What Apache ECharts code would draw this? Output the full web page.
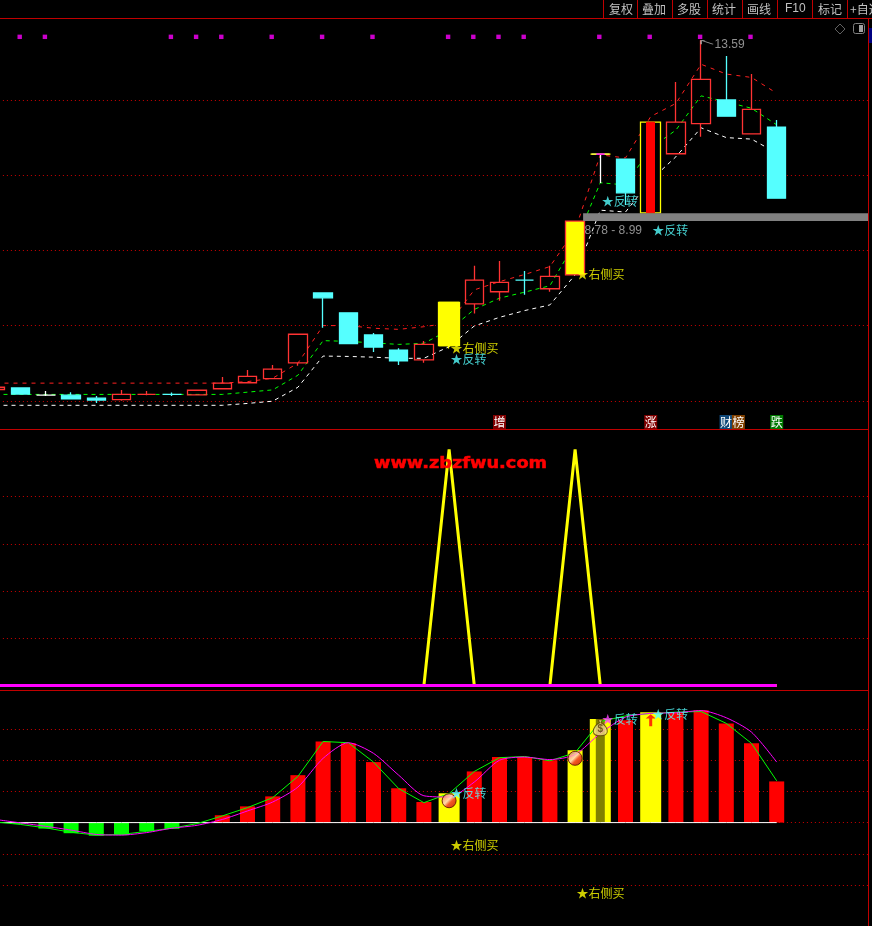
<!DOCTYPE html>
<html><head><meta charset="utf-8">
<style>html,body{margin:0;padding:0;background:#000}#c{width:872px;height:926px}</style>
<script src="https://cdn.jsdelivr.net/npm/echarts@6/dist/echarts.min.js"></script>
</head><body><div id="c"></div>
<script>
// ---------- data ----------
const categories = ['0','1','2','3','4','5','6','7','8','9','10','11','12','13','14','15','16','17','18','19','20','21','22','23','24','25','26','27','28','29','30','31','32','33','34','35'];
// [open, close, low, high]
const candles = [
 [4.30,4.36,4.30,4.36],[4.34,4.18,4.18,4.34],[4.15,4.15,4.13,4.26],[4.15,4.05,4.05,4.23],
 [4.07,4.02,3.94,4.13],[4.03,4.17,4.00,4.29],[4.17,4.17,4.15,4.26],[4.17,4.17,4.13,4.22],
 [4.16,4.28,4.14,4.28],[4.32,4.47,4.30,4.63],[4.48,4.65,4.48,4.82],[4.59,4.84,4.59,4.95],
 [5.01,5.77,4.93,5.77],[6.87,6.74,5.94,6.87],[6.34,5.52,5.52,6.34],[5.75,5.43,5.30,5.80],
 [5.35,5.06,4.95,5.40],[5.09,5.50,5.01,5.59],[5.47,6.62,5.39,6.62],[6.58,7.21,6.32,7.59],
 [6.90,7.15,6.66,7.72],[7.21,7.21,6.82,7.45],[6.98,7.31,6.90,7.59],[7.35,8.78,7.35,8.78],
 [10.56,10.56,9.79,10.56],[10.43,9.53,9.21,10.43],[9.00,11.41,9.00,11.41],[10.57,11.41,10.57,12.48],
 [11.37,12.55,11.02,13.59],[12.00,11.57,11.57,13.17],[11.10,11.75,11.10,12.69],[11.28,9.39,9.39,11.47]
];
const candleKinds = ['r','c','w','c','c','r','r','c','r','r','r','r','r','c','c','c','c','r','y','r','r','c','r','yr','w','c','k','r','r','c','r','c'];
const boxOutline = [[18,5.47,6.62],[24,10.56,10.56],[26,9.00,11.41]];
const innerBar = [[24,10.56,10.56,'#ff00ff'],[26,9.00,11.41,'#ff0000']];
const upperBand = [4.47,4.47,4.47,4.47,4.47,4.47,4.47,4.47,4.47,4.47,4.51,4.60,5.00,6.00,6.00,5.93,5.90,5.97,6.07,6.95,7.17,7.36,7.57,8.54,10.54,10.46,11.56,11.91,12.95,12.69,12.60,12.18];
const midBand = [4.17,4.17,4.17,4.17,4.17,4.17,4.17,4.17,4.17,4.17,4.23,4.29,4.68,5.60,5.58,5.54,5.50,5.53,5.88,6.43,6.73,6.89,7.06,8.20,9.80,9.74,10.72,11.20,12.11,11.95,11.78,11.34];
const lowerBand = [3.88,3.88,3.88,3.88,3.88,3.88,3.88,3.88,3.88,3.88,3.93,3.99,4.36,5.19,5.18,5.16,5.13,5.13,5.44,5.99,6.22,6.40,6.55,7.35,9.07,9.02,9.87,10.49,11.26,11.00,10.96,10.59];
const topMarks = [1,2,7,8,9,11,13,15,18,19,20,21,24,26,28,30];
const topMarkLevel = 13.68;
const chipRange = [23,8.78,8.99];
const priceLabels = [[23,8.53,'8.78 - 8.99'],[28,13.47,'13.59']];
const highPoint = [[28,13.59]];
const priceSignals = [[18,5.38,'买'],[18,5.09,'反'],[23,7.35,'买'],[24,9.29,'反'],[26,8.54,'反']];
const peakValues = [0,0,0,0,0,0,0,0,0,0,0,0,0,0,0,0,0,0,100,0,0,0,0,100,0,0,0,0,0,0,0,0];
const baseValues = [0,0,0,0,0,0,0,0,0,0,0,0,0,0,0,0,0,0,0,0,0,0,0,0,0,0,0,0,0,0,0,0];
const macdBars = [0,-0.02,-0.096,-0.17,-0.21,-0.20,-0.14,-0.10,-0.01,0.118,0.26,0.42,0.76,1.30,1.27,0.97,0.55,0.33,null,0.82,1.05,1.05,1.00,1.16,null,1.64,null,1.77,1.80,1.59,1.27,0.66];
const macdBarColors = {23:'#ffff00'};
const wideBars = [[18,0.47],[24,1.66],[26,1.77]];
const oliveBar = [[24,1.66]];
const difLine = [0.01,-0.03,-0.085,-0.155,-0.20,-0.19,-0.14,-0.09,-0.016,0.107,0.24,0.40,0.74,1.30,1.28,0.97,0.545,0.32,0.465,0.82,1.04,1.06,0.99,1.12,1.62,1.71,1.75,1.77,1.78,1.59,1.27,0.67];
const deaLine = [0.05,-0.005,-0.06,-0.12,-0.19,-0.20,-0.16,-0.09,-0.043,0.05,0.187,0.33,0.57,1.03,1.28,1.11,0.76,0.43,0.41,0.65,1.00,1.05,1.01,1.09,1.43,1.69,1.75,1.76,1.795,1.68,1.45,0.97];
const macdSignals = [[18,0.47,'反','#55ffff'],[24,1.66,'反','#ff44ff'],[26,1.74,'反','#55ffff'],[18,-0.366,'买','#ffff00'],[23,-1.13,'买','#ffff00']];
const balls = [[18,0.35],[23,1.03]];
const bag = [[24,1.52]];
const arrow = [[26,1.64]];
const toolbarLabels = ['复权','叠加','多股','统计','画线','F10','标记','+自选'];
const badges = [['增',20,'#800000'],['涨',26,'#800000'],['财',28.99,'#104878'],['榜',29.48,'#804000'],['跌',31,'#007a00']];

// ---------- helpers ----------
const cjk = '"Noto Sans CJK SC"';
const RED='#ff3333', CYAN='#55ffff', DOT='#cc0000', FRAME='#c00000';
const kindStyle = {
  r:{color:'rgba(0,0,0,0)',b:RED}, c:{color:CYAN,b:CYAN}, w:{color:'#fff',b:'#fff'},
  y:{color:'#ffff00',b:'#ffff00'}, yr:{color:'#ffff00',b:RED}, k:{color:'#000',b:'#000'}
};
const candleData = candles.map((v,i)=>{
  let s=kindStyle[candleKinds[i]]; if(candleKinds[i]==='r'&&v[0]===v[1]) s={color:RED,b:RED};
  return {value:v,itemStyle:{color:s.color,color0:s.color,borderColor:s.b,borderColor0:s.b,borderColorDoji:s.b,borderWidth:1.3}};
});
function sparse(rows,make){const a=categories.map(()=>({value:['-','-','-','-']}));rows.forEach(r=>a[r[0]]=make(r));return a;}
const outlineData = sparse(boxOutline,r=>({value:[r[1],r[2],r[1],r[2]],itemStyle:{color:'rgba(0,0,0,0)',color0:'rgba(0,0,0,0)',borderColor:'#ffff00',borderColor0:'#ffff00',borderColorDoji:'#ffff00',borderWidth:1.3}}));
const innerData = sparse(innerBar,r=>({value:[r[1],r[2],r[1],r[2]],itemStyle:{color:r[3],color0:r[3],borderColor:r[3],borderColor0:r[3],borderColorDoji:r[3],borderWidth:1}}));
const xAx=(g,extra)=>Object.assign({type:'category',data:categories,gridIndex:g,boundaryGap:true,axisLine:{show:false},axisTick:{show:false},axisLabel:{show:false},splitLine:{show:false}},extra||{});
const dotted={show:true,showMinLine:true,showMaxLine:false,lineStyle:{color:DOT,width:1,type:[1,3]}};
const yAx=(g,min,max,interval,extra)=>Object.assign({type:'value',gridIndex:g,min,max,interval,axisLine:{show:false},axisTick:{show:false},axisLabel:{show:false},splitLine:dotted},extra||{});
const line=(name,data,x,y,color,width,type,z,extra)=>Object.assign({name,type:'line',data,xAxisIndex:x,yAxisIndex:y,symbol:'none',clip:false,z,lineStyle:{color,width,type},silent:true},extra||{});
const sigRich={st:{fontFamily:cjk,fontSize:12,color:'#ffff00'},tb:{fontFamily:cjk,fontSize:12,color:'#ffff00'},tr:{fontFamily:cjk,fontSize:12,color:CYAN},sc:{fontFamily:cjk,fontSize:12,color:CYAN},sm:{fontFamily:cjk,fontSize:12,color:'#ff44ff'}};
const sigText=(k,star)=> k==='买' ? '{st|★}{tb|右侧买}' : (star==='#ff44ff'?'{sm|★}{tr|反转}':'{sc|★}{tr|反转}');
const sigSeries=(rows,x,y)=>({type:'scatter',xAxisIndex:x,yAxisIndex:y,clip:false,symbolSize:1,itemStyle:{color:'rgba(0,0,0,0)'},z:9,silent:true,
  data:rows.map(r=>({value:[r[0],r[1]],label:{show:true,position:'right',distance:0,offset:[1,0],formatter:sigText(r[2],r[3]),rich:sigRich}}))});
const gridBase={left:-17.1,width:907.2,outerBoundsMode:'none',containLabel:false};
const opt={
 backgroundColor:'#000',animation:false,
 grid:[
  Object.assign({top:24.8,height:451.2},gridBase),
  Object.assign({top:449.5,height:236},gridBase),
  Object.assign({top:697.8,height:187.2},gridBase)
 ],
 xAxis:[xAx(0),xAx(1),xAx(2),xAx(2,{show:false}),xAx(2,{show:false})],
 yAxis:[yAx(0,2,14,2,{splitLine:Object.assign({},dotted,{showMinLine:false})}),yAx(1,0,100,20,{splitLine:Object.assign({},dotted,{showMinLine:false})}),yAx(2,-1,2,0.5)],
 series:[
  line('upper',upperBand,0,0,'#ff2020',1,[4,5],1),
  line('mid',midBand,0,0,'#00ff00',1,[4,4],1),
  line('lower',lowerBand,0,0,'#ffffff',1,[4,4],1),
  {name:'kline',type:'candlestick',data:candleData,xAxisIndex:0,yAxisIndex:0,barWidth:19,z:2,clip:false,silent:true},
  {name:'box',type:'candlestick',data:outlineData,xAxisIndex:0,yAxisIndex:0,barWidth:21,z:3,clip:false,silent:true},
  {name:'inner',type:'candlestick',data:innerData,xAxisIndex:0,yAxisIndex:0,barWidth:9,z:4,clip:false,silent:true},
  {name:'chip',type:'custom',xAxisIndex:0,yAxisIndex:0,z:5,silent:true,clip:false,data:[chipRange],
   encode:{x:0,y:[1,2]},
   renderItem:(p,api)=>{const a=api.coord([api.value(0),api.value(2)]),b=api.coord([api.value(0),api.value(1)]);
     return {type:'rect',shape:{x:a[0]+8,y:a[1],width:300,height:b[1]-a[1]},style:{fill:'#808080'}};}},
  {name:'topMarks',type:'scatter',xAxisIndex:0,yAxisIndex:0,symbol:'rect',symbolSize:4.4,symbolOffset:[-1,0],z:6,silent:true,itemStyle:{color:'#ff00ff'},
   data:topMarks.map(i=>[i,topMarkLevel])},
  {name:'highLeader',type:'scatter',xAxisIndex:0,yAxisIndex:0,z:7,silent:true,clip:false,data:highPoint,
   symbol:'path://M0 0 L4 0 M0 0 L0 4 M0 0 L12 4',symbolSize:[12,4],symbolOffset:[6,2],symbolKeepAspect:false,
   itemStyle:{color:'rgba(0,0,0,0)',borderColor:'#b4b4b4',borderWidth:1}},
  sigSeries(priceSignals,0,0),
  {type:'scatter',xAxisIndex:0,yAxisIndex:0,symbolSize:1,z:9,clip:false,silent:true,itemStyle:{color:'rgba(0,0,0,0)'},
   data:priceLabels.map(r=>({value:[r[0],r[1]],label:{show:true,position:'right',distance:0,offset:[r[2]==='13.59'?13:9,0],formatter:r[2],color:'#b4b4b4',fontFamily:'"Liberation Sans"',fontSize:12}}))},
  line('peak',peakValues,1,1,'#ffff00',3,'solid',2,{}),
  line('base',baseValues,1,1,'#ff00ff',3,'solid',3,{}),
  {name:'macd',type:'bar',data:macdBars.map((v,i)=>v==null?null:{value:v,itemStyle:{color:macdBarColors[i]||(v<0?'#00ff00':'#ff0000')}}),xAxisIndex:2,yAxisIndex:2,barWidth:15,z:2,silent:true,clip:false},
  {name:'wide',type:'bar',data:categories.map((c,i)=>{const r=wideBars.find(w=>w[0]===i);return r?r[1]:null;}),xAxisIndex:3,yAxisIndex:2,barWidth:21,z:2,silent:true,clip:false,itemStyle:{color:'#ffff00'}},
  {name:'olive',type:'bar',data:categories.map((c,i)=>{const r=oliveBar.find(w=>w[0]===i);return r?r[1]:null;}),xAxisIndex:4,yAxisIndex:2,barWidth:9,z:3,silent:true,clip:false,itemStyle:{color:'#808000'}},
  line('zero',baseValues,2,2,'#ffffff',1,'solid',4),
  line('dif',difLine,2,2,'#00ff00',1,'solid',5),
  line('dea',deaLine,2,2,'#ff00ff',1,'solid',6,{smooth:0.25}),
  {type:'scatter',xAxisIndex:2,yAxisIndex:2,symbol:'circle',symbolSize:14,z:8,silent:true,data:balls,
   itemStyle:{borderColor:'#500000',borderWidth:1,color:{type:'linear',x:0,y:0,x2:1,y2:1,colorStops:[{offset:0,color:'#f05050'},{offset:.45,color:'#ffd0d0'},{offset:.6,color:'#f03030'},{offset:1,color:'#b00000'}]}}},
  {type:'scatter',xAxisIndex:2,yAxisIndex:2,symbol:'path://M7 0 L13 0 L11 4 C16 6 20 11 20 15 C20 20 15 21 10 21 C5 21 0 20 0 15 C0 11 4 6 9 4 Z',symbolSize:[14,16],z:8,silent:true,data:bag,
   itemStyle:{color:'#f0d888',borderColor:'#5a3a00',borderWidth:1},label:{show:true,position:'inside',formatter:'$',offset:[0,1],color:'#5a3a10',fontSize:10,fontWeight:'bold',fontFamily:'"Liberation Sans"'}},
  {type:'scatter',xAxisIndex:2,yAxisIndex:2,symbol:'path://M0 5 L5 0 L10 5 L6.5 5 L6.5 14 L3.5 14 L3.5 5Z',symbolSize:[10,12],z:8,silent:true,data:arrow,itemStyle:{color:'#ff0000'}},
  sigSeries(macdSignals.map(r=>[r[0],r[1],r[2],r[3]]),2,2)
 ],
 graphic:{elements:[
  {type:'rect',shape:{x:869,y:19,width:3,height:907},style:{fill:'#000'},z:50},
  {type:'rect',shape:{x:869,y:28,width:3,height:15},style:{fill:'#000080'},z:51},
  {type:'line',shape:{x1:868.5,y1:18,x2:868.5,y2:926},style:{stroke:FRAME,lineWidth:1},z:52},
  {type:'line',shape:{x1:0,y1:18.5,x2:872,y2:18.5},style:{stroke:FRAME,lineWidth:1},z:52},
  {type:'line',shape:{x1:0,y1:429.5,x2:868,y2:429.5},style:{stroke:FRAME,lineWidth:1},z:52},
  {type:'line',shape:{x1:0,y1:690.5,x2:868,y2:690.5},style:{stroke:FRAME,lineWidth:1},z:52},
  ...[603,637,672,707,742,777,812,847].map(x=>({type:'line',shape:{x1:x+.5,y1:0,x2:x+.5,y2:18},style:{stroke:FRAME,lineWidth:1},z:52})),
  ...toolbarLabels.map((t,i)=>({type:'text',x:[609,642,677,712,747,785,818,850][i],y:9,z:53,style:{text:t,fill:'#c0c0c0',font:(t==='F10'?'12px "Liberation Sans"':'12px '+cjk),textVerticalAlign:'middle'}})),
  {type:'polygon',shape:{points:[[840,24],[845,29],[840,34],[835,29]]},style:{fill:'none',stroke:'#606060'},z:53},
  {type:'rect',shape:{x:853.5,y:23.5,width:11,height:10,r:2},style:{fill:'#000',stroke:'#808080'},z:53},
  {type:'rect',shape:{x:859,y:25,width:4,height:7},style:{fill:'#a0a0a0'},z:53},
  ...badges.map(b=>{const x=20.7+25.2*(b[1]-1);return {type:'group',z:53,children:[
    {type:'rect',shape:{x:x-6.5,y:415,width:13,height:14},style:{fill:b[2]},z:53},
    {type:'text',x:x,y:422,z:54,style:{text:b[0],fill:'#fff',font:'12px '+cjk,textAlign:'center',textVerticalAlign:'middle'}}]};}),
  {type:'text',x:374,y:464,scaleX:1.185,originX:0,originY:0,z:60,style:{text:'www.zbzfwu.com',fill:'#ff0000',stroke:'#ff0000',lineWidth:0.5,font:'bold 15px "DejaVu Sans"',textVerticalAlign:'middle'}}
 ]}
};
const chart=echarts.init(document.getElementById('c'),null,{renderer:'canvas'});
chart.setOption(opt);
</script></body></html>
